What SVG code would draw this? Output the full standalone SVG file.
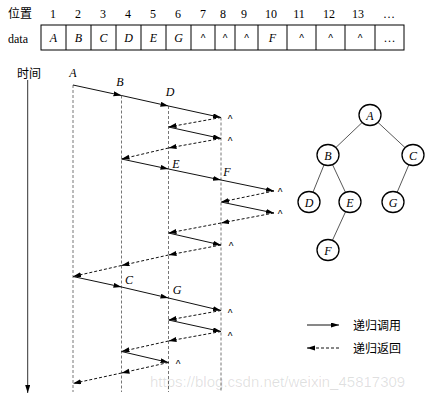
<svg xmlns="http://www.w3.org/2000/svg" width="430" height="400" viewBox="0 0 430 400">
<style>
text{font-family:"Liberation Serif","Times New Roman",serif;font-size:12px;fill:#000}
.it{font-style:italic}
.cj{font-family:"Noto Sans CJK SC",sans-serif;font-size:12px}
.c{text-anchor:middle}
.car{font-family:"Liberation Sans",sans-serif;font-size:10px;text-anchor:middle}
.cell{fill:none;stroke:#000;stroke-width:1}
.vl{stroke:#666;stroke-width:0.9;stroke-dasharray:3,2;fill:none}
.call{stroke:#111;stroke-width:1;fill:none;marker-end:url(#ah)}
.ret{stroke:#111;stroke-width:1;stroke-dasharray:3,2;fill:none;marker-end:url(#ah)}
.node{fill:#fff;stroke:#000;stroke-width:1.3}
.edge{stroke:#444;stroke-width:0.9}
.wm{font-family:"Liberation Sans",sans-serif;font-size:15px;fill:#000;fill-opacity:0.12}
</style>
<defs>
<marker id="ah" markerUnits="userSpaceOnUse" markerWidth="9" markerHeight="6" refX="8" refY="2.5" orient="auto">
<path d="M0,0 L8,2.5 L0,5 z" fill="#000"/>
</marker>
</defs>

<g id="table">
<text class="cj" x="8" y="18">位置</text>
<text x="8" y="43">data</text>
<rect class="cell" x="41" y="25" width="363" height="25"/>
<path class="cell" d="M66,25V50M91,25V50M116,25V50M141,25V50M166,25V50M191,25V50M215,25V50M235,25V50M258,25V50M287,25V50M316,25V50M345,25V50M375,25V50"/>
<g class="c">
<text x="53" y="18" class="c">1</text><text x="78" y="18" class="c">2</text><text x="103" y="18" class="c">3</text><text x="128" y="18" class="c">4</text><text x="153" y="18" class="c">5</text><text x="178" y="18" class="c">6</text><text x="203" y="18" class="c">7</text><text x="223" y="18" class="c">8</text><text x="244" y="18" class="c">9</text><text x="271" y="18" class="c">10</text><text x="299" y="18" class="c">11</text><text x="329" y="18" class="c">12</text><text x="358" y="18" class="c">13</text><text x="389" y="18" class="c">…</text>
<text x="53.5" y="42" class="c it">A</text><text x="78.5" y="42" class="c it">B</text><text x="103.5" y="42" class="c it">C</text><text x="128.5" y="42" class="c it">D</text><text x="153.5" y="42" class="c it">E</text><text x="178.5" y="42" class="c it">G</text>
<text x="203" y="42" class="car">^</text><text x="225" y="42" class="car">^</text><text x="246.5" y="42" class="car">^</text>
<text x="272.5" y="42" class="c it">F</text>
<text x="301.5" y="42" class="car">^</text><text x="330.5" y="42" class="car">^</text><text x="360" y="42" class="car">^</text>
<text x="389.5" y="42" class="c">…</text>
</g>
</g>

<g id="timeaxis">
<text class="cj" x="17" y="78">时间</text>
<line x1="27.7" y1="80" x2="27.7" y2="393" stroke="#333" stroke-width="1" marker-end="url(#ah)"/>
</g>

<g id="columns">
<line class="vl" x1="73" y1="85" x2="73" y2="392"/>
<line class="vl" x1="121.5" y1="95.5" x2="121.5" y2="392"/>
<line class="vl" x1="168.5" y1="106" x2="168.5" y2="392"/>
<line class="vl" x1="221" y1="117.5" x2="221" y2="392"/>
</g>

<g id="connectors">
<line class="call" x1="73" y1="85" x2="121.5" y2="95.5"/>
<line class="call" x1="121.5" y1="95.5" x2="168.5" y2="106"/>
<line class="call" x1="168.5" y1="106" x2="221" y2="117.5"/>
<line class="ret" x1="221" y1="117.5" x2="168.5" y2="127"/>
<line class="call" x1="168.5" y1="127" x2="221" y2="138.5"/>
<line class="ret" x1="221" y1="138.5" x2="168.5" y2="148"/>
<line class="ret" x1="168.5" y1="148" x2="121.5" y2="159"/>
<line class="call" x1="121.5" y1="159" x2="168.5" y2="169"/>
<line class="call" x1="168.5" y1="169" x2="221" y2="180"/>
<line class="call" x1="221" y1="180" x2="274" y2="191"/>
<line class="ret" x1="274" y1="191" x2="221" y2="202"/>
<line class="call" x1="221" y1="202" x2="274" y2="213"/>
<line class="ret" x1="274" y1="213" x2="221" y2="223"/>
<line class="ret" x1="221" y1="223" x2="168.5" y2="233"/>
<line class="call" x1="168.5" y1="233" x2="221" y2="245"/>
<line class="ret" x1="221" y1="245" x2="168.5" y2="255"/>
<line class="ret" x1="168.5" y1="255" x2="121.5" y2="265.5"/>
<line class="ret" x1="121.5" y1="265.5" x2="73" y2="276.5"/>
<line class="call" x1="73" y1="276.5" x2="121.5" y2="287"/>
<line class="call" x1="121.5" y1="287" x2="168.5" y2="298"/>
<line class="call" x1="168.5" y1="298" x2="221" y2="310.5"/>
<line class="ret" x1="221" y1="310.5" x2="168.5" y2="320"/>
<line class="call" x1="168.5" y1="320" x2="221" y2="331.5"/>
<line class="ret" x1="221" y1="331.5" x2="168.5" y2="341"/>
<line class="ret" x1="168.5" y1="341" x2="121.5" y2="351.5"/>
<line class="call" x1="121.5" y1="351.5" x2="168.5" y2="362.5"/>
<line class="ret" x1="168.5" y1="362.5" x2="121.5" y2="373"/>
<line class="ret" x1="121.5" y1="373" x2="73" y2="383.5"/>
</g>

<g id="trace-labels">
<text class="it c" x="73" y="77">A</text>
<text class="it c" x="120" y="86">B</text>
<text class="it c" x="170" y="96">D</text>
<text class="it c" x="176" y="168">E</text>
<text class="it c" x="227" y="176">F</text>
<text class="it c" x="129" y="284">C</text>
<text class="it c" x="177" y="294">G</text>
<text class="car" x="230" y="123">^</text>
<text class="car" x="230" y="145">^</text>
<text class="car" x="280" y="196">^</text>
<text class="car" x="280" y="218">^</text>
<text class="car" x="231" y="250">^</text>
<text class="car" x="230" y="317">^</text>
<text class="car" x="230" y="340">^</text>
<text class="car" x="178" y="368">^</text>
</g>

<g id="tree-edges">
<line class="edge" x1="370" y1="115" x2="328" y2="155"/>
<line class="edge" x1="370" y1="115" x2="413" y2="155"/>
<line class="edge" x1="328" y1="155" x2="309" y2="202"/>
<line class="edge" x1="328" y1="155" x2="350" y2="202"/>
<line class="edge" x1="413" y1="155" x2="393" y2="202"/>
<line class="edge" x1="350" y1="202" x2="328" y2="250"/>
</g>
<g id="node-A"><ellipse class="node" cx="370" cy="115" rx="11" ry="10.5"/><text class="it c" x="370" y="119.5">A</text></g>
<g id="node-B"><ellipse class="node" cx="328" cy="155" rx="11" ry="10.5"/><text class="it c" x="328" y="159.5">B</text></g>
<g id="node-C"><ellipse class="node" cx="413" cy="155" rx="11" ry="10.5"/><text class="it c" x="413" y="159.5">C</text></g>
<g id="node-D"><ellipse class="node" cx="309" cy="202" rx="11" ry="10.5"/><text class="it c" x="309" y="206.5">D</text></g>
<g id="node-E"><ellipse class="node" cx="350" cy="202" rx="11" ry="10.5"/><text class="it c" x="350" y="206.5">E</text></g>
<g id="node-G"><ellipse class="node" cx="393" cy="202" rx="11" ry="10.5"/><text class="it c" x="393" y="206.5">G</text></g>
<g id="node-F"><ellipse class="node" cx="328" cy="250" rx="11" ry="10.5"/><text class="it c" x="328" y="254.5">F</text></g>

<g id="legend">
<line class="call" x1="307" y1="325" x2="339" y2="325"/>
<text class="cj" x="353" y="329.5">递归调用</text>
<line class="ret" x1="339" y1="348" x2="307" y2="348"/>
<text class="cj" x="353" y="352.5">递归返回</text>
</g>

<text class="wm" x="150" y="387">https://blog.csdn.net/weixin_45817309</text>
</svg>
